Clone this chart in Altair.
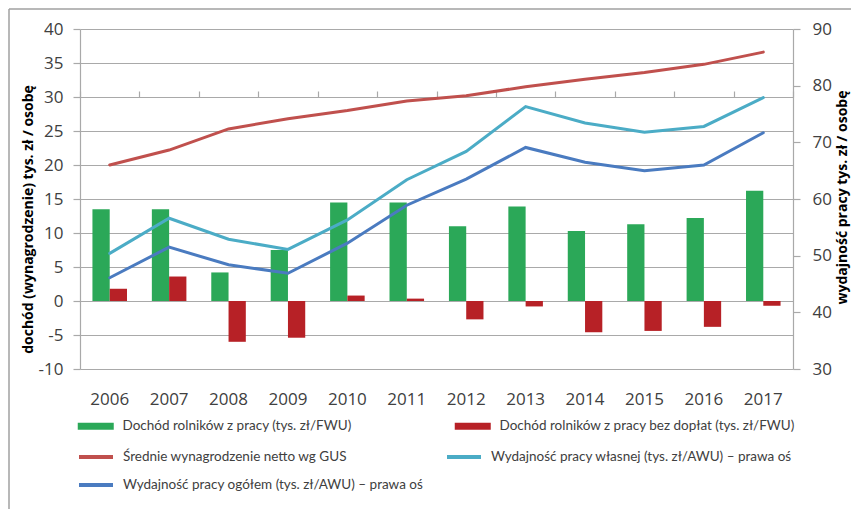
import altair as alt
import pandas as pd

years = ["2006", "2007", "2008", "2009", "2010", "2011", "2012", "2013", "2014", "2015", "2016", "2017"]
income = [13.5, 13.5, 4.2, 7.5, 14.5, 14.5, 11.0, 13.9, 10.3, 11.3, 12.2, 16.2]
income_no_subsidy = [1.8, 3.6, -6.0, -5.4, 0.8, 0.35, -2.7, -0.8, -4.6, -4.4, -3.8, -0.7]
wage = [20.0, 22.2, 25.3, 26.8, 28.0, 29.4, 30.2, 31.5, 32.6, 33.6, 34.8, 36.6]
prod_own = [50.4, 56.6, 52.9, 51.1, 56.3, 63.4, 68.4, 76.3, 73.4, 71.8, 72.8, 77.9]
prod_total = [46.1, 51.5, 48.4, 46.9, 52.2, 58.9, 63.5, 69.1, 66.5, 65.0, 66.0, 71.7]

S1 = "Dochód rolników z pracy (tys. zł/FWU)"
S2 = "Dochód rolników z pracy bez dopłat (tys. zł/FWU)"
S3 = "Średnie wynagrodzenie netto wg GUS"
S4 = "Wydajność pracy własnej (tys. zł/AWU) – prawa oś"
S5 = "Wydajność pracy ogółem (tys. zł/AWU) – prawa oś"
bar_series = [S1, S2]
bar_colors = ["#2BA858", "#B72126"]
line_series = [S3, S4, S5]
line_colors = ["#C0504D", "#4BACC6", "#4A7BC0"]

bars_df = pd.DataFrame(
    [{"year": y, "series": S1, "value": v} for y, v in zip(years, income)]
    + [{"year": y, "series": S2, "value": v} for y, v in zip(years, income_no_subsidy)]
)
left_lines_df = pd.DataFrame([{"year": y, "series": S3, "value": v} for y, v in zip(years, wage)])
right_lines_df = pd.DataFrame(
    [{"year": y, "series": S4, "value": v} for y, v in zip(years, prod_own)]
    + [{"year": y, "series": S5, "value": v} for y, v in zip(years, prod_total)]
)

GRID = "#A9A9A9"
TXT = "#404040"
LEG_FONT = "Lato"
LEG_SIZE = 13.5

xscale = alt.Scale(domain=years, paddingInner=0, paddingOuter=0)

fill_enc = alt.Fill(
    "series:N",
    scale=alt.Scale(domain=bar_series, range=bar_colors),
    legend=alt.Legend(
        title=None, orient="none", legendX=1, legendY=390, columns=2, direction="horizontal",
        columnPadding=102, rowPadding=12, padding=0, values=bar_series,
        symbolSize=100, symbolType="M-2,-0.7H5.2V0.7H-2Z", symbolStrokeWidth=0,
        labelOffset=28, labelFont=LEG_FONT, labelFontSize=LEG_SIZE, labelColor=TXT, labelLimit=0,
    ),
)
stroke_main = alt.Stroke(
    "series:N",
    scale=alt.Scale(domain=line_series, range=line_colors),
    legend=alt.Legend(
        title=None, orient="none", legendX=1, legendY=421, columns=2, direction="horizontal",
        columnPadding=15, rowPadding=12, padding=0, values=line_series,
        symbolSize=100, symbolType="M-1.8,0H5", symbolStrokeWidth=4,
        labelOffset=28, labelFont=LEG_FONT, labelFontSize=LEG_SIZE, labelColor=TXT, labelLimit=0,
    ),
)
stroke_other = alt.Stroke(
    "series:N",
    scale=alt.Scale(domain=line_series, range=line_colors),
    legend=None,
)

frame_top = alt.Chart(alt.Data(values=[{"a": 1}])).mark_rule(
    color="#A0A0A0", strokeWidth=1.5
).encode(x=alt.value(-71), x2=alt.value(900), y=alt.value(-20))
frame_left = alt.Chart(alt.Data(values=[{"a": 1}])).mark_rule(
    color="#A0A0A0", strokeWidth=1.5
).encode(x=alt.value(-71), y=alt.value(-20), y2=alt.value(700))

bars = alt.Chart(bars_df).mark_bar().encode(
    x=alt.X(
        "year:N",
        scale=xscale,
        sort=years,
        title=None,
        axis=alt.Axis(
            domain=False, ticks=False, tickSize=0, labelPadding=22, labelAngle=0,
            labelFont="Open Sans", labelFontSize=17, labelColor=TXT, grid=False,
        ),
    ),
    xOffset=alt.XOffset("series:N", scale=alt.Scale(domain=bar_series, paddingInner=0, paddingOuter=0.72)),
    y=alt.Y(
        "value:Q",
        scale=alt.Scale(domain=[-10, 40], nice=False, zero=False),
        axis=alt.Axis(
            values=list(range(-10, 45, 5)),
            labelExpr="'' + datum.value",
            title="dochód (wynagrodzenie) tys. zł / osobę",
            titleFont="Open Sans", titleFontSize=14, titleFontWeight="bold", titleColor="#000000",
            titleX=-52, titleY=190, titleAngle=270, titleBaseline="middle", titleAlign="center",
            labelFont="Open Sans", labelFontSize=17, labelColor=TXT, labelPadding=10,
            tickSize=7, tickColor=GRID, domainColor=GRID, gridColor=GRID, gridWidth=1.2,
            domainWidth=1.2, tickWidth=1.2, grid=True,
        ),
    ),
    fill=fill_enc,
)

wage_line = alt.Chart(left_lines_df).mark_line(strokeWidth=3, strokeCap="round").encode(
    x=alt.X("year:N", scale=xscale, sort=years, bandPosition=0.5, axis=None),
    y=alt.Y("value:Q", scale=alt.Scale(domain=[-10, 40], nice=False, zero=False), axis=None),
    stroke=stroke_main,
)

right_lines = alt.Chart(right_lines_df).mark_line(strokeWidth=3, strokeCap="round").encode(
    x=alt.X(
        "year:N", scale=xscale, sort=years, bandPosition=0.5, title=None,
        axis=alt.Axis(
            offset=-68, labels=False, tickBand="extent", tickSize=6, tickColor=GRID,
            domainColor=GRID, domainWidth=1.2, tickWidth=1.2, grid=False,
        ),
    ),
    y=alt.Y(
        "value:Q",
        scale=alt.Scale(domain=[30, 90], nice=False, zero=False),
        axis=alt.Axis(
            orient="right", values=list(range(30, 95, 10)), grid=False,
            title="wydajność pracy tys. zł / osobę",
            titleFont="Open Sans", titleFontSize=14, titleFontWeight="bold", titleColor="#000000",
            titleX=49, titleY=168, titleAngle=270, titleBaseline="middle", titleAlign="center",
            labelFont="Open Sans", labelFontSize=17, labelColor=TXT, labelPadding=12,
            tickSize=7, tickColor=GRID, domainColor=GRID, domainWidth=1.2, tickWidth=1.2,
        ),
    ),
    stroke=stroke_other,
)

chart = alt.layer(frame_top, frame_left, bars, wage_line, right_lines).resolve_scale(
    y="independent", stroke="independent"
).resolve_axis(x="independent").properties(
    width=713,
    height=340,
    padding={"left": 72, "top": 21, "right": 58, "bottom": 140},
    autosize=alt.AutoSizeParams(type="none"),
    background="white",
).configure_view(stroke=None)

chart.save("out.html", embed_options={"renderer": "svg", "actions": False})
